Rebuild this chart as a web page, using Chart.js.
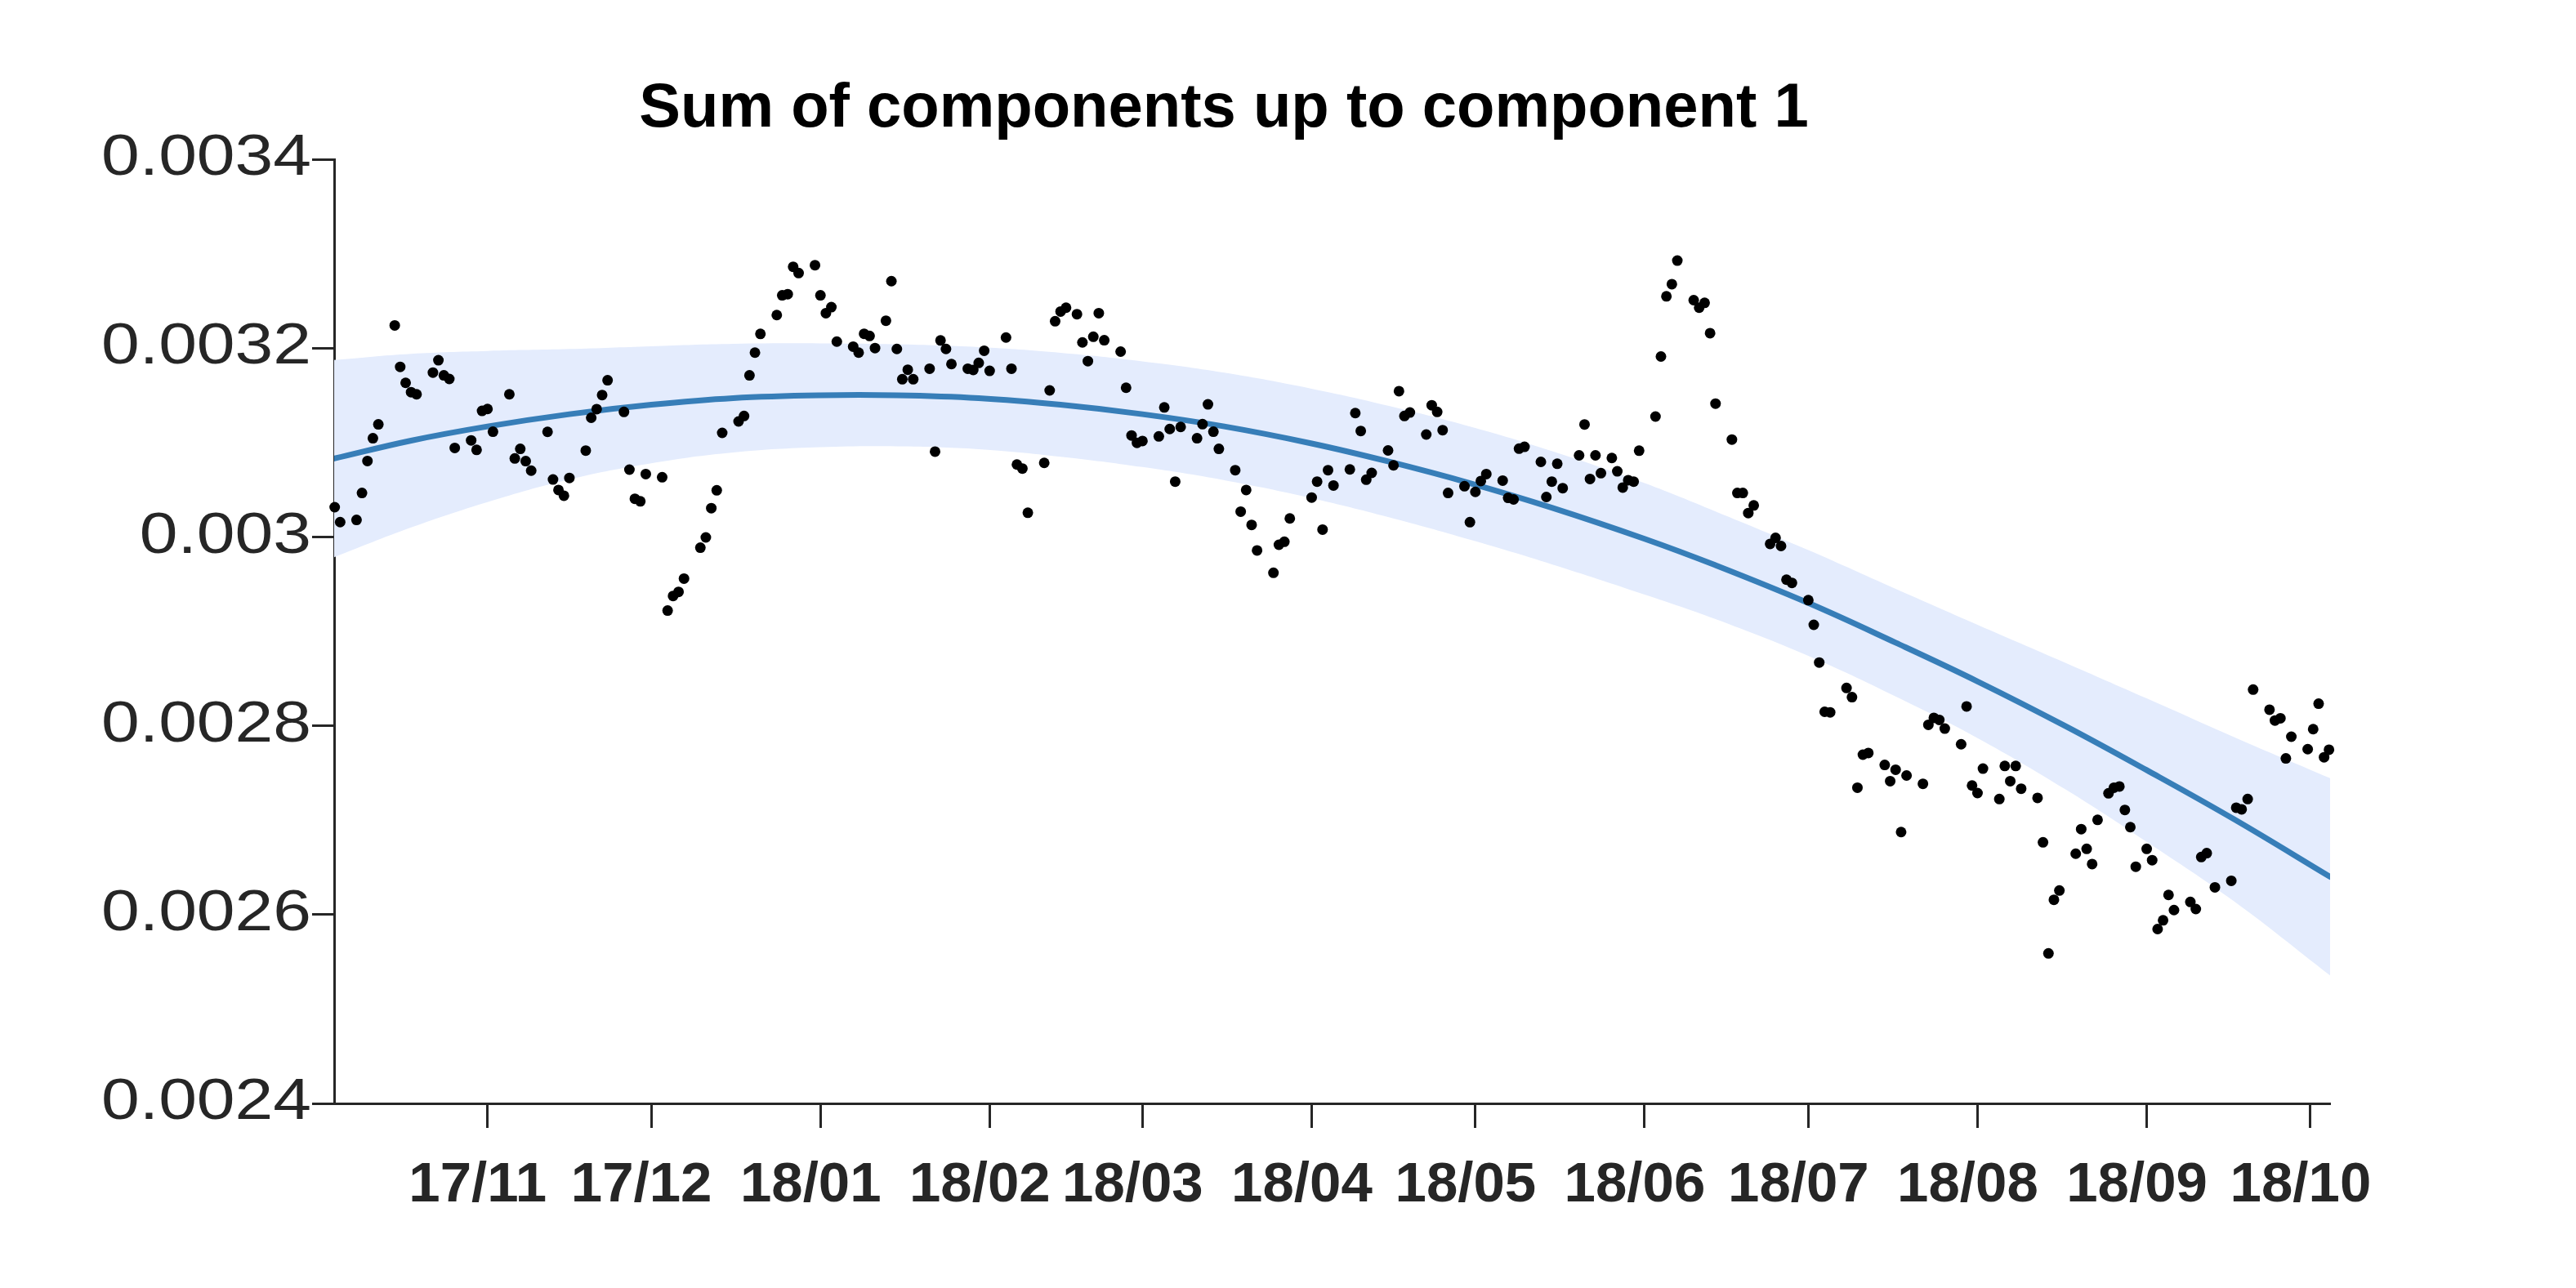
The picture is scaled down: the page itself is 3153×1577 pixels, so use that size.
<!DOCTYPE html>
<html><head><meta charset="utf-8">
<script src="https://cdn.jsdelivr.net/npm/chart.js@4/dist/chart.umd.min.js"></script>
<style>html,body{margin:0;padding:0;background:#fff}canvas{display:block}</style>
</head><body>
<canvas id="c" width="3153" height="1577" style="width:3153px;height:1577px"></canvas>
<script>
const titleText = 'Sum of components up to component 1';
// x axis: days since 2017-11-01
const xTickDays = [0,30,61,92,120,151,181,212,242,273,304,334];
const xTickLabels = ['17/11','17/12','18/01','18/02','18/03','18/04','18/05','18/06','18/07','18/08','18/09','18/10'];
const yTickValues = [0.0024,0.0026,0.0028,0.003,0.0032,0.0034];
const yTickLabels = ['0.0024','0.0026','0.0028','0.003','0.0032','0.0034'];

const obsDays = [-28,-27,-24,-23,-22,-21,-20,-17,-16,-15,-14,-13,-10,-9,-8,-7,-6,-3,-2,-1,0,1,4,5,6,7,8,11,12,13,14,15,18,19,20,21,22,25,26,27,28,29,32,33,34,35,36,39,40,41,42,43,46,47,48,49,50,53,54,55,56,57,60,61,62,63,64,67,68,69,70,71,73,74,75,76,77,78,81,82,83,84,85,88,89,90,91,92,95,96,97,98,99,102,103,104,105,106,108,109,110,111,112,113,116,117,118,119,120,123,124,125,126,127,130,131,132,133,134,137,138,139,140,141,144,145,146,147,151,152,153,154,155,158,159,160,161,162,165,166,167,168,169,172,173,174,175,176,179,180,181,182,183,186,187,188,189,190,193,194,195,196,197,200,201,202,203,204,206,207,208,209,210,211,214,215,216,217,218,221,222,223,224,225,228,229,230,231,232,235,236,237,238,239,242,243,244,245,246,249,250,251,252,253,256,257,258,259,260,263,264,265,266,267,270,271,272,273,274,277,278,279,280,281,284,285,286,287,288,291,292,293,294,295,297,298,299,300,301,302,304,305,306,307,308,309,312,313,314,315,316.5,319.5,320.4,321.4,322.5,323.5,326.5,327.5,328.5,329.5,330.5,333.5,334.5,335.5,336.5,337.4];
const obsValues = [
0.0030315,0.0030157,0.003018,0.0030466,0.0030804,0.0031045,0.0031192,0.003224,0.0031801,0.0031632,
0.0031533,0.0031511,0.0031741,0.0031871,0.0031711,0.0031673,0.0030943,0.0031023,0.0030922,0.0031335,
0.0031355,0.0031114,0.0031511,0.0030831,0.0030933,0.0030803,0.0030702,0.0031113,0.0030608,0.0030497,
0.0030437,0.0030625,0.0030915,0.0031262,0.0031354,0.0031503,0.0031659,0.0031324,0.0030713,0.0030404,
0.0030377,0.0030666,0.0030632,0.002922,0.0029375,0.0029418,0.0029559,0.0029886,0.0029995,0.0030305,
0.0030494,0.0031102,0.0031223,0.0031281,0.0031711,0.0031952,0.003215,0.003235,0.0032559,0.0032571,
0.0032861,0.0032795,0.0032878,0.0032559,0.003237,0.0032434,0.0032069,0.0032015,0.0031952,0.0032152,
0.0032129,0.0032,0.003229,0.0032709,0.0031991,0.003167,0.0031771,0.003167,0.0031782,0.0030904,
0.0032081,0.0031991,0.0031831,0.0031782,0.0031768,0.0031843,0.0031972,0.0031759,0.0032112,0.0031782,
0.0030767,0.0030724,0.0030256,0.0030784,0.0031552,0.0032284,0.0032387,0.0032428,0.0032359,0.003206,
0.0031862,0.003212,0.003237,0.0032083,0.0031963,0.003158,0.0031075,0.0030997,0.0031016,0.0031065,
0.0031372,0.0031143,0.0030586,0.0031165,0.0031045,0.0031194,0.0031404,0.0031114,0.0030933,0.0030707,
0.0030268,0.0030497,0.0030127,0.0029857,0.002962,0.0029917,0.0029949,0.0030196,0.0030417,0.0030586,
0.0030078,0.0030707,0.0030545,0.0030715,0.0031312,0.0031122,0.0030606,0.0030678,0.0030916,0.0030758,
0.0031544,0.0031281,0.0031318,0.0031085,0.0031395,0.0031324,0.0031131,0.0030466,0.0030537,0.0030156,
0.0030477,0.0030592,0.0030666,0.0030597,0.0030414,0.0030397,0.0030935,0.0030954,0.0030795,0.0030423,
0.0030586,0.0030775,0.0030517,0.0030864,0.0031191,0.0030614,0.0030864,0.0030675,0.0030836,0.0030695,
0.0030523,0.0030601,0.0030586,0.0030913,0.0031275,0.0031911,0.0032548,0.0032677,0.0032927,0.0032508,
0.0032428,0.0032479,0.0032158,0.0031412,0.0031031,0.0030466,0.0030466,0.0030253,0.0030334,0.0029926,
0.002999,0.0029904,0.0029547,0.0029513,0.002933,0.0029069,0.002867,0.0028148,0.0028142,0.00284,
0.0028303,0.0027344,0.0027694,0.0027712,0.0027585,0.0027413,0.0027534,0.0026874,0.0027473,0.0027385,
0.002801,0.0028084,0.0028062,0.002797,0.0027804,0.0028205,0.0027367,0.0027287,0.0027546,0.0027224,
0.0027574,0.0027413,0.0027574,0.0027333,0.0027236,0.0026765,0.0025589,0.0026157,0.0026255,0.0026645,
0.0026905,0.0026696,0.0026535,0.0027003,0.0027284,0.0027344,0.0027357,0.0027108,0.0026926,0.0026507,
0.0026696,0.0026576,0.0025847,0.0025939,0.0026208,0.0026048,0.0026134,0.0026059,0.002661,0.0026651,
0.0026289,0.0026358,0.0027132,0.0027115,0.0027224,0.0028383,0.002817,0.0028056,0.0028079,0.0027654,
0.0027884,0.0027752,0.0027964,0.0028234,0.0027666,0.0027746];

const fitDays  = [-28.1,-14,0,15,30,45,61,75,90,105,120,135,151,165,180,195,212,225,242,258,273,289,304,320,337.6];
const fitMean  = [0.003083,0.003102,0.003117,0.00313,0.00314,0.003147,0.00315,0.00315,0.003147,0.00314,0.00313,0.003117,0.003099,0.00308,0.003057,0.003031,0.002998,0.00297,0.00293,0.002888,0.002847,0.0028,0.002753,0.002701,0.00264];
const fitUpper = [0.0031875,0.003194,0.003197,0.003199,0.003202,0.0032045,0.003205,0.003204,0.003201,0.003195,0.003186,0.003174,0.003157,0.003139,0.003117,0.003091,0.003057,0.003027,0.002986,0.002945,0.002907,0.002867,0.002829,0.002788,0.0027445];
const fitLower = [0.0029785,0.00301,0.003037,0.003061,0.003078,0.0030895,0.003095,0.003096,0.003093,0.003085,0.003074,0.00306,0.003041,0.003021,0.002997,0.002971,0.002939,0.002913,0.002874,0.002831,0.002787,0.002733,0.002677,0.002614,0.0025355];

const FONT = '"Liberation Sans", Arial, Helvetica, sans-serif';
const AXIS = '#262626';
const toPts = (xs, ys) => xs.map((x, i) => ({x: x, y: ys[i]}));

const textPlugin = {
  id: 'textPlugin',
  afterDraw(chart) {
    const ctx = chart.ctx;
    ctx.save();
    ctx.font = 'bold 76px ' + FONT;
    ctx.fillStyle = '#000';
    ctx.textAlign = 'center';
    ctx.textBaseline = 'alphabetic';
    ctx.fillText(titleText, 1498, 155);
    // y tick labels (slightly wide lettering as in the original)
    const ys = chart.scales.y;
    const right = ys.right - 27 - 1;
    ctx.font = '70px ' + FONT;
    ctx.fillStyle = AXIS;
    ctx.textAlign = 'right';
    ctx.textBaseline = 'middle';
    yTickValues.forEach((v, i) => {
      ctx.save();
      ctx.translate(right, ys.getPixelForValue(v));
      ctx.scale(1.2, 1);
      ctx.fillText(yTickLabels[i], 0, 0);
      ctx.restore();
    });
    ctx.restore();
  }
};

new Chart(document.getElementById('c'), {
  type: 'scatter',
  data: {
    datasets: [
      { data: toPts(fitDays, fitUpper), showLine: true, pointRadius: 0, borderWidth: 0, borderColor: 'rgba(0,0,0,0)',
        backgroundColor: 'rgb(228,236,253)', fill: '+1', tension: 0.4, order: 3 },
      { data: toPts(fitDays, fitLower), showLine: true, pointRadius: 0, borderWidth: 0, borderColor: 'rgba(0,0,0,0)',
        fill: false, tension: 0.4, order: 4 },
      { data: toPts(fitDays, fitMean), showLine: true, pointRadius: 0, borderWidth: 7, borderColor: '#377eb8',
        borderCapStyle: 'round', fill: false, tension: 0.4, order: 2 },
      { data: toPts(obsDays, obsValues), showLine: false, pointRadius: 6.5, pointBorderWidth: 0,
        backgroundColor: '#000', borderColor: '#000', pointStyle: 'circle', order: 1, clip: false }
    ]
  },
  options: {
    responsive: false, animation: false, devicePixelRatio: 1,
    layout: { padding: { left: 0, right: 301, top: 195, bottom: 0 } },
    plugins: { legend: { display: false }, tooltip: { enabled: false }, title: { display: false } },
    scales: {
      x: {
        type: 'linear', min: -28.1, max: 337.6,
        afterBuildTicks: s => { s.ticks = xTickDays.map(v => ({ value: v })); },
        afterFit: s => { s.height = 226; },
        ticks: { callback: (v, i) => xTickLabels[i], font: { family: FONT, size: 69, weight: 'bold' },
                 color: AXIS, padding: 30, labelOffset: -12, maxRotation: 0, autoSkip: false },
        grid: { drawOnChartArea: false, drawTicks: true, tickLength: 30, tickWidth: 3, tickColor: AXIS },
        border: { display: true, color: AXIS, width: 3 }
      },
      y: {
        min: 0.0024, max: 0.0034,
        afterBuildTicks: s => { s.ticks = yTickValues.map(v => ({ value: v })); },
        afterFit: s => { s.width = 409; },
        ticks: { display: false, callback: (v, i) => yTickLabels[i] },
        grid: { drawOnChartArea: false, drawTicks: true, tickLength: 27, tickWidth: 3, tickColor: AXIS },
        border: { display: true, color: AXIS, width: 3 }
      }
    }
  },
  plugins: [textPlugin]
});
</script>
</body></html>
